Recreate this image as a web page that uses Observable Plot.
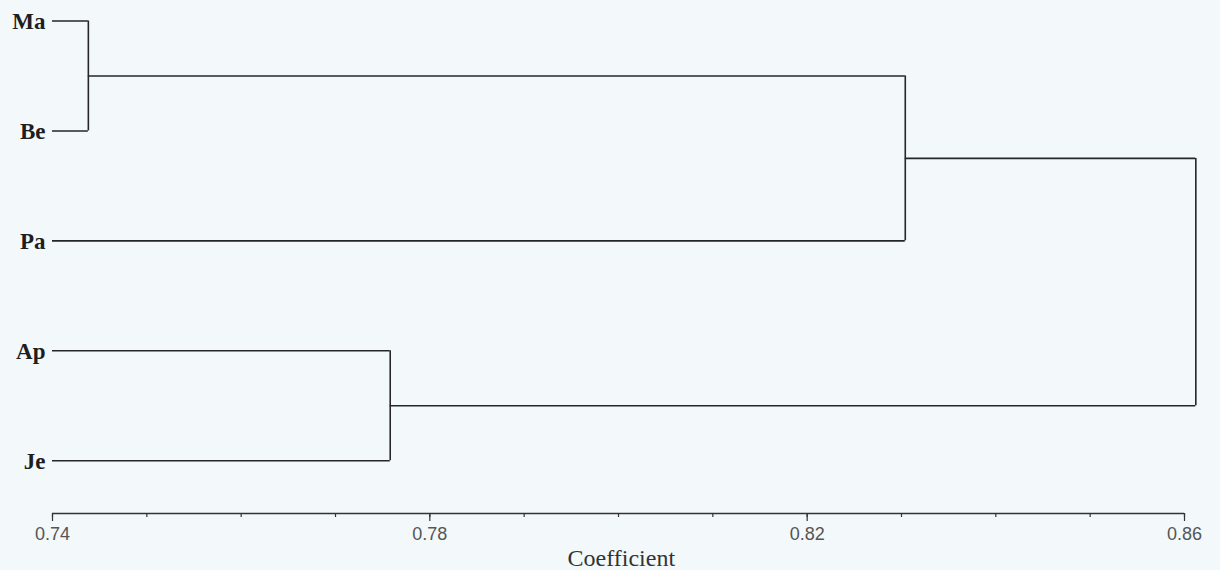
<!DOCTYPE html>
<html>
<head>
<meta charset="utf-8">
<script src="https://cdn.jsdelivr.net/npm/d3@7"></script>
<script src="https://cdn.jsdelivr.net/npm/@observablehq/plot@0.6"></script>
<style>
  html, body { margin: 0; padding: 0; background: #f3f8fa; }
  #chart svg { display: block; }
</style>
</head>
<body>
<div id="chart"></div>
<script>
// Leaves (top to bottom)
const leaves = ["Ma", "Be", "Pa", "Ap", "Je"];
// Merges in order: clusters C1..C4
const mergeA = ["Ma", "Ap", "C1", "C3"];
const mergeB = ["Be", "Je", "Pa", "C2"];
const mergeCoef = [0.7438, 0.7758, 0.8304, 0.8612];
// Axis ticks
const majorTicks = [0.74, 0.78, 0.82, 0.86];
const minorTicks = [0.74, 0.75, 0.76, 0.77, 0.78, 0.79, 0.80, 0.81, 0.82, 0.83, 0.84, 0.85, 0.86];
const xLabel = "Coefficient";
const leafCoef = 0.74;
const axisRow = 4.48;

// Build node positions
const nodeX = new Map(), nodeY = new Map();
leaves.forEach((d, i) => { nodeX.set(d, leafCoef); nodeY.set(d, i); });
const horiz = [], vert = [];
mergeCoef.forEach((c, i) => {
  const id = "C" + (i + 1);
  const a = mergeA[i], b = mergeB[i];
  horiz.push({x1: nodeX.get(a), x2: c, y: nodeY.get(a)});
  horiz.push({x1: nodeX.get(b), x2: c, y: nodeY.get(b)});
  vert.push({x: c, y1: nodeY.get(a), y2: nodeY.get(b)});
  nodeX.set(id, c);
  nodeY.set(id, (nodeY.get(a) + nodeY.get(b)) / 2);
});
const leafRows = leaves.map((d, i) => ({name: d, x: leafCoef, y: i}));

const stroke = "#262626";
const chart = Plot.plot({
  width: 1220,
  height: 570,
  marginLeft: 52,
  marginRight: 36,
  marginTop: 20,
  marginBottom: 57,
  style: {background: "#f3f8fa", overflow: "visible"},
  x: {domain: [0.74, 0.86], axis: null},
  y: {domain: [0, axisRow], range: [20.5, 513], axis: null},
  marks: [
    Plot.ruleY(horiz, {x1: "x1", x2: "x2", y: "y", stroke, strokeWidth: 1.6}),
    Plot.ruleX(vert, {x: "x", y1: "y1", y2: "y2", stroke, strokeWidth: 1.6}),
    Plot.ruleY([axisRow], {x1: 0.74, x2: 0.86, stroke: "#333", strokeWidth: 1.5}),
    Plot.axisX(minorTicks, {anchor: "bottom", tickSize: 4, tickFormat: () => "", stroke: "#333", strokeWidth: 1.2}),
    Plot.axisX(majorTicks, {anchor: "bottom", tickSize: 8, tickFormat: () => "", stroke: "#333", strokeWidth: 1.2}),
    Plot.text(majorTicks, {x: d => d, frameAnchor: "bottom", text: d3.format(".2f"), lineAnchor: "middle", dy: 21,
      fill: "#555", fontSize: 18,
      fontFamily: "'Liberation Sans Narrow', 'Arial Narrow', 'Liberation Sans', Arial, sans-serif"}),
    Plot.text(leafRows, {x: "x", y: "y", text: "name", textAnchor: "end", dx: -7, dy: 1,
      fontSize: 23, fontWeight: "bold", fontFamily: "Liberation Serif, Times New Roman, serif", fill: "#1e1e1e"}),
    Plot.text([xLabel], {frameAnchor: "bottom", x: () => 0.8003, text: d => d, lineAnchor: "bottom", dy: 52,
      fontSize: 24, fontFamily: "Liberation Serif, Times New Roman, serif", fill: "#333"})
  ]
});
document.getElementById("chart").append(chart);
</script>
</body>
</html>
